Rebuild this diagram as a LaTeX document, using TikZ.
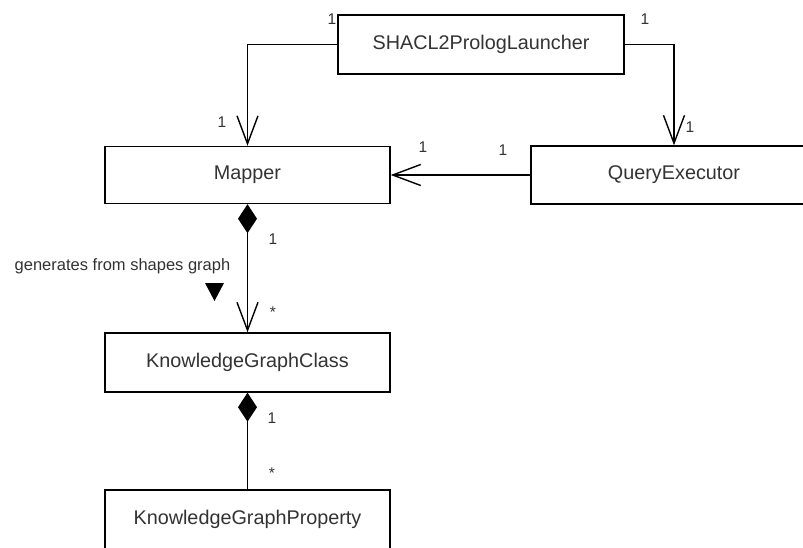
\documentclass[tikz,border=0pt]{standalone}
\usepackage{fontspec}
\setmainfont{Liberation Sans}
\usetikzlibrary{arrows.meta}
\definecolor{ink}{RGB}{51,51,51}

\begin{document}
\begin{tikzpicture}[x=1pt,y=-1pt,
    cls/.style={draw,line width=1.4pt,minimum width=285pt,minimum height=57pt,inner sep=0pt,
        text=ink,font=\fontsize{19.8pt}{24pt}\selectfont},
    mult/.style={inner sep=0pt,text=ink,font=\fontsize{15.5pt}{18pt}\selectfont},
    assoc/.style={line width=1.4pt,-{Straight Barb[length=28pt,width=21pt,line width=1.4pt]}},
    comp/.style={line width=1.4pt,{Diamond[length=29pt,width=19pt]}-},
    compnav/.style={line width=1.4pt,{Diamond[length=29pt,width=19pt]}-{Straight Barb[length=28pt,width=21pt,line width=1.4pt]}}]
    \useasboundingbox (0,0) rectangle (803,548);
    \clip (0,0) rectangle (803,548);

    % classes
    \node[cls,minimum width=286pt,minimum height=59pt] (launcher) at (481,44.5) {SHACL2PrologLauncher};
    \node[cls] (mapper) at (247.5,175) {Mapper};
    \node[cls,minimum width=286pt,minimum height=58pt] (query) at (674,175) {QueryExecutor};
    \node[cls,minimum height=59pt] (kgclass) at (247.5,362.5) {KnowledgeGraphClass};
    \node[cls,minimum height=59pt] (kgprop) at (247.5,519.5) {KnowledgeGraphProperty};

    % associations
    \draw[assoc] (launcher.west) -| (mapper.north);
    \draw[assoc] (launcher.east) -| (query.north);
    \draw[assoc] (query.west) -- (mapper.east);
    \draw[compnav] (mapper.south) -- (kgclass.north);
    \draw[comp] (kgclass.south) -- (kgprop.north);

    % multiplicities
    \node[mult] (mL1) at (332,19) {1};
    \node[mult] (mL2) at (645,19) {1};
    \node[mult] (mM1) at (222,122) {1};
    \node[mult] (mQ1) at (690,127) {1};
    \node[mult] (mM2) at (423,147) {1};
    \node[mult] (mQ2) at (503,150) {1};
    \node[mult] (mC1) at (273,239) {1};
    \node[mult] (mC2) at (273,312) {*};
    \node[mult] (mP1) at (272,418) {1};
    \node[mult] (mP2) at (272,473) {*};

    % role name with reading direction
    \node[inner sep=0pt,text=ink,font=\fontsize{16.5pt}{20pt}\selectfont] (gen) at (122.5,266) {generates from shapes graph};
    \fill (205,283) -- (224,283) -- (214.5,301) -- cycle;
\end{tikzpicture}
\end{document}
